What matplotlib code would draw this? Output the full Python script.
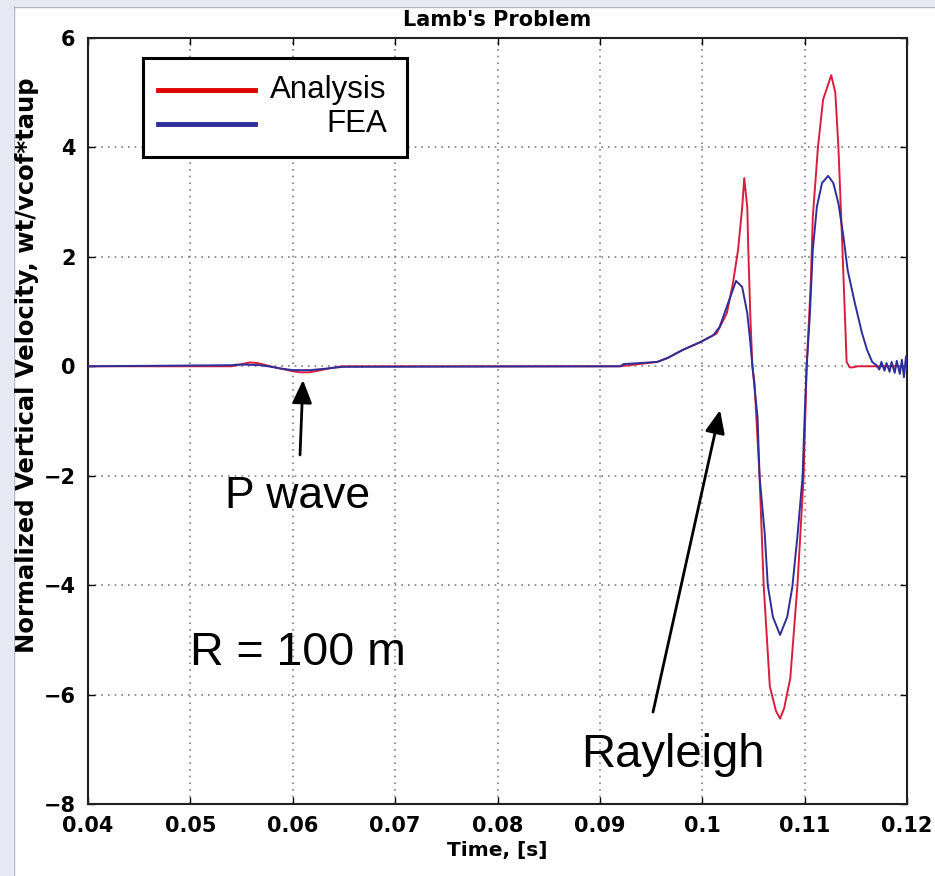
import matplotlib
matplotlib.use("Agg")
import matplotlib.pyplot as plt
from matplotlib.patches import Rectangle
from matplotlib.lines import Line2D

# ---------------- data ----------------
analysis_t = [0.0400, 0.0540, 0.0548, 0.0558, 0.0565, 0.0572, 0.0578, 0.0590, 0.0600,
              0.0607, 0.0616, 0.0625, 0.0635, 0.0648, 0.0920, 0.0956, 0.0966, 0.0981,
              0.0998, 0.1011, 0.1014, 0.1024, 0.1030, 0.1035, 0.1039, 0.1041, 0.1044,
              0.1045, 0.1047, 0.1049, 0.1051, 0.1056, 0.1060, 0.1066, 0.1072, 0.1076,
              0.1080, 0.1086, 0.1093, 0.1099, 0.1102, 0.1106, 0.1108, 0.1113, 0.1118,
              0.1126, 0.1130, 0.1133, 0.1137, 0.1140, 0.1141, 0.1144, 0.1147, 0.1152,
              0.1200]
analysis_v = [0.00, 0.00, 0.03, 0.07, 0.06, 0.03, 0.00, -0.05, -0.09,
              -0.11, -0.11, -0.08, -0.04, 0.00, 0.00, 0.08, 0.15, 0.30,
              0.44, 0.57, 0.60, 0.97, 1.52, 2.13, 2.90, 3.44, 2.90,
              2.12, 0.90, 0.00, -0.30, -2.02, -4.00, -5.85, -6.30, -6.44,
              -6.25, -5.70, -4.00, -2.02, 0.00, 1.52, 2.73, 4.00, 4.87,
              5.32, 5.00, 4.00, 2.12, 0.60, 0.08, -0.02, -0.02, 0.00,
              0.00]

fea_t = [0.0400, 0.0541, 0.0545, 0.0555, 0.0568, 0.0576, 0.0588, 0.0600, 0.0617,
         0.0634, 0.0649, 0.0920, 0.0923, 0.0956, 0.0966, 0.0981, 0.0998, 0.1011,
         0.1017, 0.1024, 0.1033, 0.1039, 0.1044, 0.1047, 0.1049, 0.1054, 0.1056,
         0.1061, 0.1064, 0.1069, 0.1076, 0.1083, 0.1088, 0.1093, 0.1098, 0.1100,
         0.1102, 0.1105, 0.1108, 0.1112, 0.1117, 0.1123, 0.1128, 0.1133, 0.1138,
         0.1142, 0.1149, 0.1156, 0.1161, 0.1166, 0.1170, 0.1173, 0.1175, 0.1178,
         0.1180, 0.1183, 0.1185, 0.1188, 0.1190, 0.1193, 0.1195, 0.1197, 0.1199,
         0.1200]
fea_v = [0.00, 0.02, 0.03, 0.03, 0.02, 0.00, -0.04, -0.07, -0.07,
         -0.04, -0.01, 0.00, 0.04, 0.08, 0.15, 0.30, 0.44, 0.57,
         0.72, 1.09, 1.56, 1.45, 0.97, 0.43, 0.00, -0.93, -2.02,
         -3.05, -4.00, -4.58, -4.91, -4.58, -4.03, -3.10, -2.02, -0.92,
         0.00, 0.90, 2.13, 2.92, 3.35, 3.48, 3.35, 2.98, 2.36,
         1.76, 1.16, 0.61, 0.30, 0.08, 0.02, -0.06, 0.08, -0.08,
         0.06, -0.10, 0.08, -0.12, 0.10, -0.14, 0.12, -0.20, 0.18,
         -0.05]

series_labels = ["Analysis", "FEA"]
x_ticks = [0.04, 0.05, 0.06, 0.07, 0.08, 0.09, 0.10, 0.11, 0.12]
x_ticklabels = ["0.04", "0.05", "0.06", "0.07", "0.08", "0.09", "0.1", "0.11", "0.12"]
y_ticks = [-8, -6, -4, -2, 0, 2, 4, 6]
y_ticklabels = ["\u22128", "\u22126", "\u22124", "\u22122", "0", "2", "4", "6"]

title = "Lamb's Problem"
xlabel = "Time, [s]"
ylabel = "Normalized Vertical Velocity, wt/vcof*taup"

# ---------------- styling ----------------
RED = "#d81e3c"
RED_LEG = "#e00000"
BLUE = "#2e2e98"
BOLD = dict(family="DejaVu Sans", fontweight="bold")
ANN = dict(family=["Liberation Sans", "DejaVu Sans"])

fig = plt.figure(figsize=(9.35, 8.76), dpi=100)
fig.patch.set_facecolor("white")

# window frame strips (left and top)
fig.patches.append(Rectangle((0, 0), 13 / 935, 1, transform=fig.transFigure,
                             facecolor="#e8e8f4", edgecolor="none", zorder=-1))
fig.patches.append(Rectangle((0, 1 - 6 / 876), 1, 6 / 876, transform=fig.transFigure,
                             facecolor="#e8e8f4", edgecolor="none", zorder=-1))
fig.lines.append(Line2D([14 / 935, 14 / 935], [0, 1 - 6 / 876], transform=fig.transFigure,
                        color="#b4b4c8", lw=1, zorder=-1))
fig.lines.append(Line2D([14 / 935, 1], [1 - 7 / 876, 1 - 7 / 876], transform=fig.transFigure,
                        color="#b4b4c8", lw=1, zorder=-1))

ax = fig.add_axes([88 / 935, 1 - 804 / 876, (907 - 88) / 935, (804 - 38) / 876])

ax.plot(analysis_t, analysis_v, color=RED, lw=1.4, zorder=3)
ax.plot(fea_t, fea_v, color=BLUE, lw=1.4, zorder=4)

ax.set_xlim(0.04, 0.12)
ax.set_ylim(-8, 6)
ax.set_xticks(x_ticks)
ax.set_xticklabels(x_ticklabels, fontsize=15, **BOLD)
ax.set_yticks(y_ticks)
ax.set_yticklabels(y_ticklabels, fontsize=15, **BOLD)
ax.tick_params(direction="in", length=5, width=1, top=True, right=True)
ax.tick_params(axis="x", pad=9)
ax.tick_params(axis="y", pad=9)
ax.grid(True, linestyle=(0, (1, 3)), color="#808080", lw=1.2)
for s in ax.spines.values():
    s.set_linewidth(1.5)
    s.set_color("#202020")

ax.set_title(title, fontsize=15, pad=9, **BOLD)
ax.set_xlabel(xlabel, fontsize=14.5, labelpad=3, **BOLD)
ax.set_ylabel(ylabel, fontsize=17.5, **BOLD)
ax.yaxis.set_label_coords(-0.060, 0.573)

# legend (manual box in axes coordinates)
ax.add_patch(Rectangle((0.0672, 0.845), 0.3223, 0.129, transform=ax.transAxes,
                       facecolor="white", edgecolor="black", lw=2.2, zorder=6))
ax.add_line(Line2D([0.0855, 0.204], [0.932, 0.932], transform=ax.transAxes,
                   color=RED_LEG, lw=3.5, zorder=7))
ax.add_line(Line2D([0.0855, 0.204], [0.888, 0.888], transform=ax.transAxes,
                   color=BLUE, lw=3.5, zorder=7))
ax.text(0.365, 0.932, series_labels[0], transform=ax.transAxes, ha="right", va="center",
        fontsize=22.5, zorder=7, **ANN)
ax.text(0.365, 0.888, series_labels[1], transform=ax.transAxes, ha="right", va="center",
        fontsize=22.5, zorder=7, **ANN)

# annotations
ax.text(0.06046, -2.59, "P wave", ha="center", va="baseline", fontsize=32, **ANN)
ax.text(0.06046, -5.456, "R = 100 m", ha="center", va="baseline", fontsize=33.5, **ANN)
ax.text(0.09713, -7.32, "Rayleigh", ha="center", va="baseline", fontsize=34, **ANN)

arrow = dict(arrowstyle="-|>,head_length=0.7,head_width=0.3", color="black", lw=2,
             shrinkA=0, shrinkB=0, mutation_scale=20)
ax.annotate("", xy=(0.0610, -0.25), xytext=(0.06071, -1.62), arrowprops=arrow)
ax.annotate("", xy=(0.10174, -0.80), xytext=(0.09519, -6.32), arrowprops=arrow)

fig.savefig("out.png", dpi=100, facecolor=fig.get_facecolor())
